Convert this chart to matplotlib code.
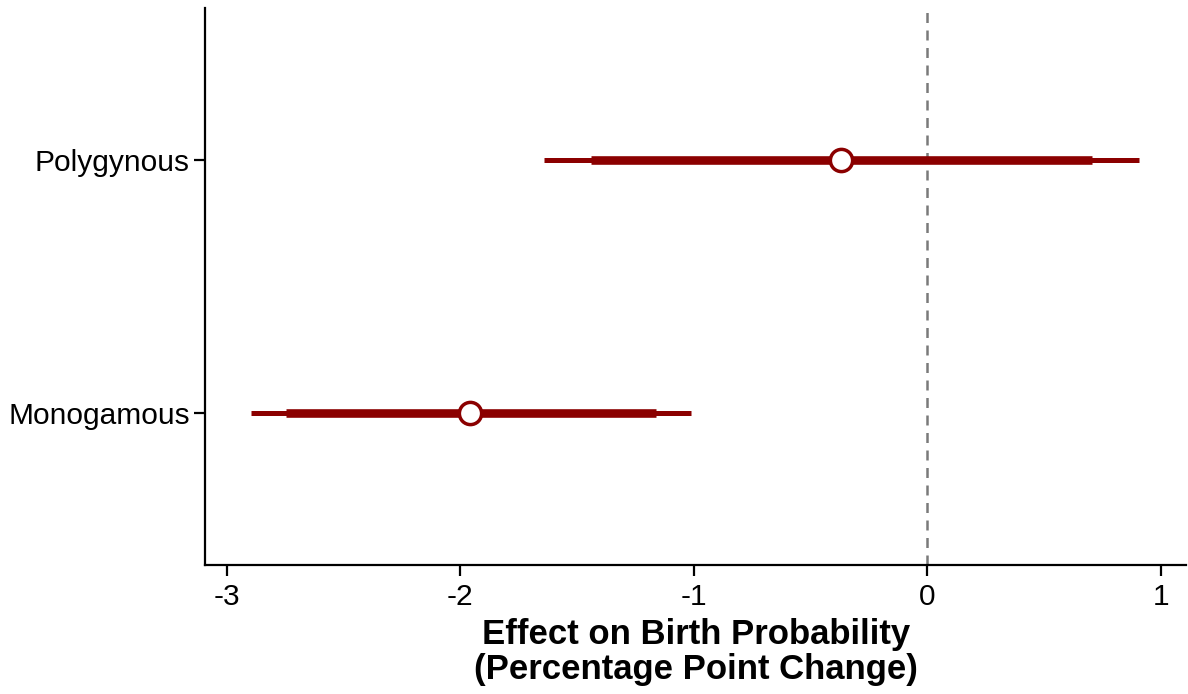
import matplotlib
matplotlib.use("Agg")
import matplotlib.pyplot as plt

plt.rcParams['font.family'] = ['Liberation Sans', 'DejaVu Sans']

groups = ["Monogamous", "Polygynous"]
est = [-1.957, -0.369]
lo95 = [-2.897, -1.644]
hi95 = [-1.013, 0.906]
lo90 = [-2.747, -1.442]
hi90 = [-1.163, 0.704]

fig = plt.figure(figsize=(11.88, 6.94), dpi=100)
ax = fig.add_axes([0.1726, 0.186, 0.826, 0.802])

ax.axvline(0, color="#7a7a7a", linestyle=(0, (4, 3)), linewidth=1.8, zorder=1)

ypos = [1, 2]
ax.hlines(ypos, lo95, hi95, color="#8B0000", linewidth=3.6, zorder=2)
ax.hlines(ypos, lo90, hi90, color="#8B0000", linewidth=6.2, zorder=3)
ax.plot(est, ypos, "o", markersize=16, markerfacecolor="white",
        markeredgecolor="#8B0000", markeredgewidth=2.5, zorder=4)

ax.set_yticks(ypos)
ax.set_yticklabels(groups)
ax.set_xticks([-3, -2, -1, 0, 1])
ax.set_xticklabels(["-3", "-2", "-1", "0", "1"])
ax.set_xlim(-3.094, 1.11)
ax.set_ylim(0.4, 2.6)

for s in ["top", "right"]:
    ax.spines[s].set_visible(False)
for s in ["left", "bottom"]:
    ax.spines[s].set_linewidth(1.6)
ax.tick_params(axis="both", labelsize=21.5, width=1.6, length=8, color="black")
ax.tick_params(axis="y", pad=3)
ax.tick_params(axis="x", pad=5)

ax.set_xlabel("Effect on Birth Probability\n(Percentage Point Change)",
              fontsize=25, fontweight="bold", linespacing=1.08, labelpad=5)

fig.savefig("out.png", dpi=100)
